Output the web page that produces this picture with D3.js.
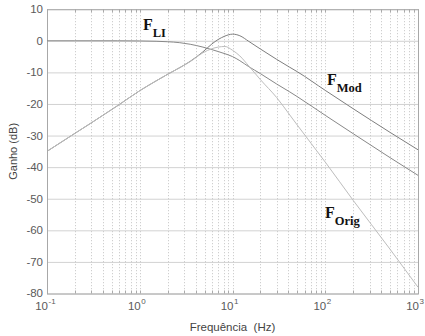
<!DOCTYPE html>
<html>
<head>
<meta charset="utf-8">
<script src="https://cdn.jsdelivr.net/npm/d3@7"></script>
<style>
  body { margin: 0; background: #fff; }
  svg { display: block; }
  text { font-family: Arial, "Liberation Sans", sans-serif; }
</style>
</head>
<body>
<div id="chart"></div>
<script>
// Data - - - - - - - - - - - - - - - - - - - - - - - - - - -
// frequencies (Hz) where the curves were sampled
var freqs = [0.1, 0.2, 0.3, 0.58, 1, 1.5, 2, 2.7, 3.5, 4.8, 6, 7, 8.3, 10, 12, 15, 20, 30, 41.5, 50, 100, 200, 500, 1000]

// gain (dB) of each curve at those frequencies
var gainMod  = [-35, -29.3, -26, -20.5, -15.8, -12.7, -10.6, -8.5, -6.5, -3.5, -1.0, 0.4, 1.5, 2.1, 1.6, -0.2, -2.6, -5.9, -8.4, -9.8, -15.7, -21.5, -29, -34.5]
var gainOrig = [-35, -29.3, -26, -20.5, -15.8, -12.7, -10.6, -8.5, -6.6, -3.8, -2.5, -2.0, -1.8, -3.0, -4.8, -8.0, -12.3, -18, -23.5, -26.7, -38.4, -50.5, -66, -78]
var gainLI   = [0, 0, 0, 0, -0.05, -0.15, -0.3, -0.6, -1.1, -2.0, -2.8, -3.4, -4.1, -5.0, -6.3, -8.2, -10.4, -13.7, -16.2, -17.7, -23.6, -29.4, -37, -42.6]

var yTicks = [10, 0, -10, -20, -30, -40, -50, -60, -70, -80]
var xDecades = [-1, 0, 1, 2, 3]

// Canvas - - - - - - - - - - - - - - - - - - - - - - - - - - - - - - - - - - - -
var svgWidth = 425
  , svgHeight = 336
  , margin = {top: 9.2, right: 7, bottom: 42.5, left: 47}
  , width = svgWidth - margin.left - margin.right
  , height = svgHeight - margin.top - margin.bottom

var svg = d3.select("#chart").append("svg")
    .attr("width", svgWidth)
    .attr("height", svgHeight)

var g = svg.append("g")
    .attr("transform", "translate(" + margin.left + "," + margin.top + ")")

var x = d3.scaleLog().domain([0.1, 1000]).range([0, width])
var y = d3.scaleLinear().domain([-80, 10]).range([height, 0])

// Grid: dotted verticals at every minor/major tick, solid horizontals every 10 dB
var minorTicks = []
for (var d = -1; d < 3; d++) {
    for (var k = 1; k < 10; k++) minorTicks.push(k * Math.pow(10, d))
}
minorTicks.push(1000)

g.append("g").attr("class", "hgrid")
  .selectAll("line").data(yTicks).enter()
  .append("line")
    .attr("x1", 0).attr("x2", width)
    .attr("y1", function(v) { return y(v) + 0.5 })
    .attr("y2", function(v) { return y(v) + 0.5 })
    .attr("stroke", "#d2d2d2")
    .attr("stroke-width", 1)

g.append("g").attr("class", "vgrid")
  .selectAll("line").data(minorTicks.slice(1, -1)).enter()
  .append("line")
    .attr("x1", function(f) { return Math.round(x(f)) + 0.5 })
    .attr("x2", function(f) { return Math.round(x(f)) + 0.5 })
    .attr("y1", 0).attr("y2", height)
    .attr("stroke", "#c4c4c4")
    .attr("stroke-width", 1)
    .attr("stroke-dasharray", "1,2")

// small inward ticks on bottom and top edges
;[height, 0].forEach(function(edge) {
    g.append("g").selectAll("line").data(minorTicks).enter()
      .append("line")
        .attr("x1", function(f) { return Math.round(x(f)) + 0.5 })
        .attr("x2", function(f) { return Math.round(x(f)) + 0.5 })
        .attr("y1", edge)
        .attr("y2", edge === 0 ? 3 : edge - 3)
        .attr("stroke", "#aaa")
})

// frame
g.append("rect")
    .attr("x", 0.5).attr("y", 0.5)
    .attr("width", width).attr("height", height)
    .attr("fill", "none")
    .attr("stroke", "#a8a8a8")

// Curves
var line = d3.line()
    .x(function(p) { return x(p[0]) })
    .y(function(p) { return y(p[1]) })
    .curve(d3.curveMonotoneX)

var series = [
    {name: "LI",   vals: gainLI,   color: "#888888"},
    {name: "Mod",  vals: gainMod,  color: "#7e7e7e"},
    {name: "Orig", vals: gainOrig, color: "#bdbdbd"}
]

g.selectAll("path.curve").data(series).enter()
  .append("path")
    .attr("class", "curve")
    .attr("fill", "none")
    .attr("stroke", function(s) { return s.color })
    .attr("stroke-width", 1)
    .attr("d", function(s) { return line(freqs.map(function(f, i) { return [f, s.vals[i]] })) })

// Y tick labels
g.append("g").selectAll("text").data(yTicks).enter()
  .append("text")
    .attr("x", -4)
    .attr("y", function(v) { return y(v) + 4 })
    .attr("text-anchor", "end")
    .attr("font-size", "11.5px")
    .attr("fill", "#5a5a5a")
    .text(function(v) { return v })

// X tick labels 10^n
g.append("g").selectAll("text").data(xDecades).enter()
  .append("text")
    .attr("x", function(n) { return x(Math.pow(10, n)) + 1 })
    .attr("y", height + 17)
    .attr("text-anchor", "end")
    .attr("font-size", "11.5px")
    .attr("fill", "#5a5a5a")
    .text("10")
g.append("g").selectAll("text").data(xDecades).enter()
  .append("text")
    .attr("x", function(n) { return x(Math.pow(10, n)) + 1.5 })
    .attr("y", height + 11)
    .attr("font-size", "8px")
    .attr("fill", "#5a5a5a")
    .text(function(n) { return n })

// Axis titles
svg.append("text")
    .attr("transform", "translate(17," + (margin.top + height / 2) + ") rotate(-90)")
    .attr("text-anchor", "middle")
    .attr("font-size", "11px")
    .attr("fill", "#444")
    .text("Ganho (dB)")

svg.append("text")
    .attr("x", margin.left + width / 2)
    .attr("y", 331)
    .attr("text-anchor", "middle")
    .attr("font-size", "11.5px")
    .attr("fill", "#444")
    .style("white-space", "pre")
    .text("Frequência  (Hz)")

// Curve labels F_sub in bold serif
var labels = [
    {sub: "LI",   x: 143, y: 30},
    {sub: "Mod",  x: 327, y: 85},
    {sub: "Orig", x: 325, y: 218}
]
labels.forEach(function(l) {
    var t = svg.append("text")
        .attr("x", l.x).attr("y", l.y)
        .attr("font-weight", "bold")
        .attr("fill", "#111")
        .style("font-family", "'Liberation Serif', 'Times New Roman', serif")
    t.append("tspan").attr("font-size", "16px").text("F")
    t.append("tspan").attr("font-size", "12.5px").attr("dy", 7).text(l.sub)
})
</script>
</body>
</html>
